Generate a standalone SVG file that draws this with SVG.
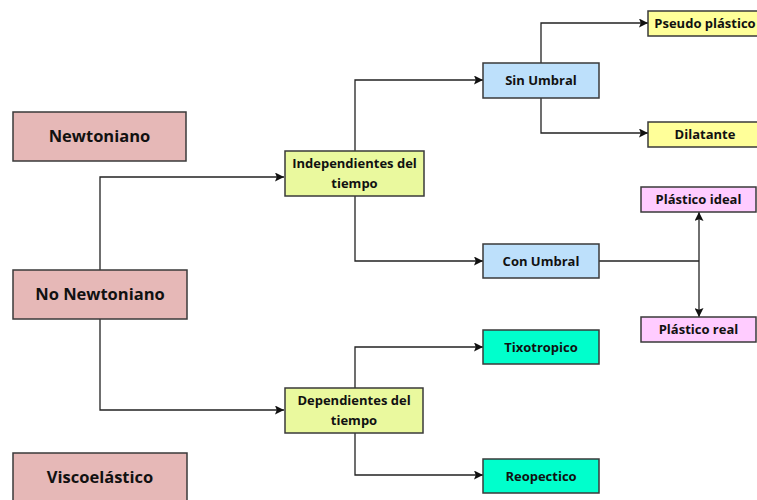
<svg xmlns="http://www.w3.org/2000/svg" width="757" height="500" viewBox="0 0 757 500">
<defs>
<marker id="ah" viewBox="0 0 10 10" refX="10" refY="5" markerWidth="9" markerHeight="9" markerUnits="userSpaceOnUse" orient="auto">
<path d="M0,0 L10,5 L0,10 L2,5 Z" fill="#111"/>
</marker>
</defs>
<style>
rect{stroke:#3a3a3a;stroke-width:1.5}
.pk{fill:#e6b8b7}
.yg{fill:#eaf99e}
.bl{fill:#bde0fb}
.ye{fill:#ffff99}
.pp{fill:#ffccff}
.cy{fill:#00ffcc}
.big{font-family:"Open Sans",Lato,sans-serif;font-weight:bold;font-size:16.5px;fill:#111;text-anchor:middle}
.sm{font-family:"Open Sans","DejaVu Sans",sans-serif;font-weight:bold;font-size:13px;fill:#111;text-anchor:middle}
.c{fill:none;stroke:#222;stroke-width:1.3}
</style>
<rect width="757" height="500" fill="#fff" style="stroke:none"/>
<g id="connectors">
<path class="c" d="M100,270 V177 H284" marker-end="url(#ah)"/>
<path class="c" d="M100,319 V410 H284" marker-end="url(#ah)"/>
<path class="c" d="M355,151 V80 H483" marker-end="url(#ah)"/>
<path class="c" d="M355,196 V261 H483" marker-end="url(#ah)"/>
<path class="c" d="M541,63 V23 H648" marker-end="url(#ah)"/>
<path class="c" d="M541,98 V133 H648" marker-end="url(#ah)"/>
<path class="c" d="M599,261 H699"/>
<path class="c" d="M699,261 V212" marker-end="url(#ah)"/>
<path class="c" d="M699,261 V317" marker-end="url(#ah)"/>
<path class="c" d="M355,388 V347 H483" marker-end="url(#ah)"/>
<path class="c" d="M355,433 V475 H483" marker-end="url(#ah)"/>
</g>
<g id="newtoniano"><rect class="pk" x="13" y="112" width="173" height="49"/><text class="big" x="99.5" y="142">Newtoniano</text></g>
<g id="no-newtoniano"><rect class="pk" x="13" y="270" width="174" height="49"/><text class="big" x="100" y="300">No Newtoniano</text></g>
<g id="viscoelastico"><rect class="pk" x="13" y="453" width="174" height="52"/><text class="big" x="100" y="482.5">Viscoelástico</text></g>
<g id="independientes"><rect class="yg" x="285" y="151" width="139" height="45"/><text class="sm" x="354.5" y="168">Independientes del</text><text class="sm" x="354.5" y="187.5">tiempo</text></g>
<g id="dependientes"><rect class="yg" x="285" y="388" width="138" height="45"/><text class="sm" x="354" y="405">Dependientes del</text><text class="sm" x="354" y="424.5">tiempo</text></g>
<g id="sin-umbral"><rect class="bl" x="483" y="63" width="116" height="35"/><text class="sm" x="541" y="85">Sin Umbral</text></g>
<g id="con-umbral"><rect class="bl" x="483" y="244" width="116" height="34"/><text class="sm" x="541" y="265.5">Con Umbral</text></g>
<g id="pseudo-plastico"><rect class="ye" x="648" y="11" width="115" height="25"/><text class="sm" x="705" y="28">Pseudo plástico</text></g>
<g id="dilatante"><rect class="ye" x="648" y="122" width="115" height="25"/><text class="sm" x="705" y="139">Dilatante</text></g>
<g id="plastico-ideal"><rect class="pp" x="641" y="187" width="115" height="25"/><text class="sm" x="698.5" y="204">Plástico ideal</text></g>
<g id="plastico-real"><rect class="pp" x="641" y="317" width="115" height="25"/><text class="sm" x="698.5" y="334">Plástico real</text></g>
<g id="tixotropico"><rect class="cy" x="483" y="330" width="116" height="34"/><text class="sm" x="541" y="351.5">Tixotropico</text></g>
<g id="reopectico"><rect class="cy" x="483" y="459" width="116" height="34"/><text class="sm" x="541" y="480.5">Reopectico</text></g>
</svg>
